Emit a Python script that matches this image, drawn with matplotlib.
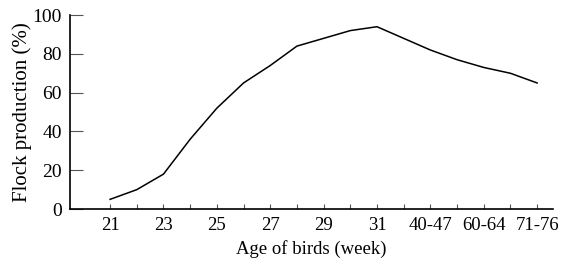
import matplotlib
matplotlib.use('Agg')
import matplotlib.pyplot as plt

# data
ages = ['21', '22', '23', '24', '25', '26', '27', '28', '29', '30', '31',
        '32-39', '40-47', '48-59', '60-64', '65-70', '71-76']
production = [5, 10, 18, 36, 52, 65, 74, 84, 88, 92, 94,
              88, 82, 77, 73, 70, 65]
shown_labels = ['21', '23', '25', '27', '29', '31', '40-47', '60-64', '71-76']
y_ticks = [0, 20, 40, 60, 80, 100]

plt.rcParams['font.family'] = ['Liberation Serif', 'DejaVu Serif']

fig = plt.figure(figsize=(5.65, 2.6), dpi=100)
ax = fig.add_axes([0.124, 0.196, 0.855, 0.746])

x = list(range(len(ages)))
ax.plot(x, production, color='black', linewidth=1.1)

ax.set_xticks(x)
ax.set_xticklabels([a if a in shown_labels else '' for a in ages], fontsize=13.5)
ax.set_yticks(y_ticks)
ax.set_yticklabels([str(v) for v in y_ticks], fontsize=14)
ax.set_xlim(-1.5, 16.6)
ax.set_ylim(0, 100)

ax.tick_params(axis='y', direction='in', length=9, width=0.8, color='#555555', pad=6)
ax.tick_params(axis='x', direction='in', length=3.5, width=0.8, color='#555555', pad=6)

for s in ['top', 'right']:
    ax.spines[s].set_visible(False)
for s in ['left', 'bottom']:
    ax.spines[s].set_linewidth(1.2)

ax.set_xlabel('Age of birds (week)', fontsize=13.5, labelpad=4)
ax.set_ylabel('Flock production (%)', fontsize=15, labelpad=0)

fig.savefig('out.png', dpi=100)
